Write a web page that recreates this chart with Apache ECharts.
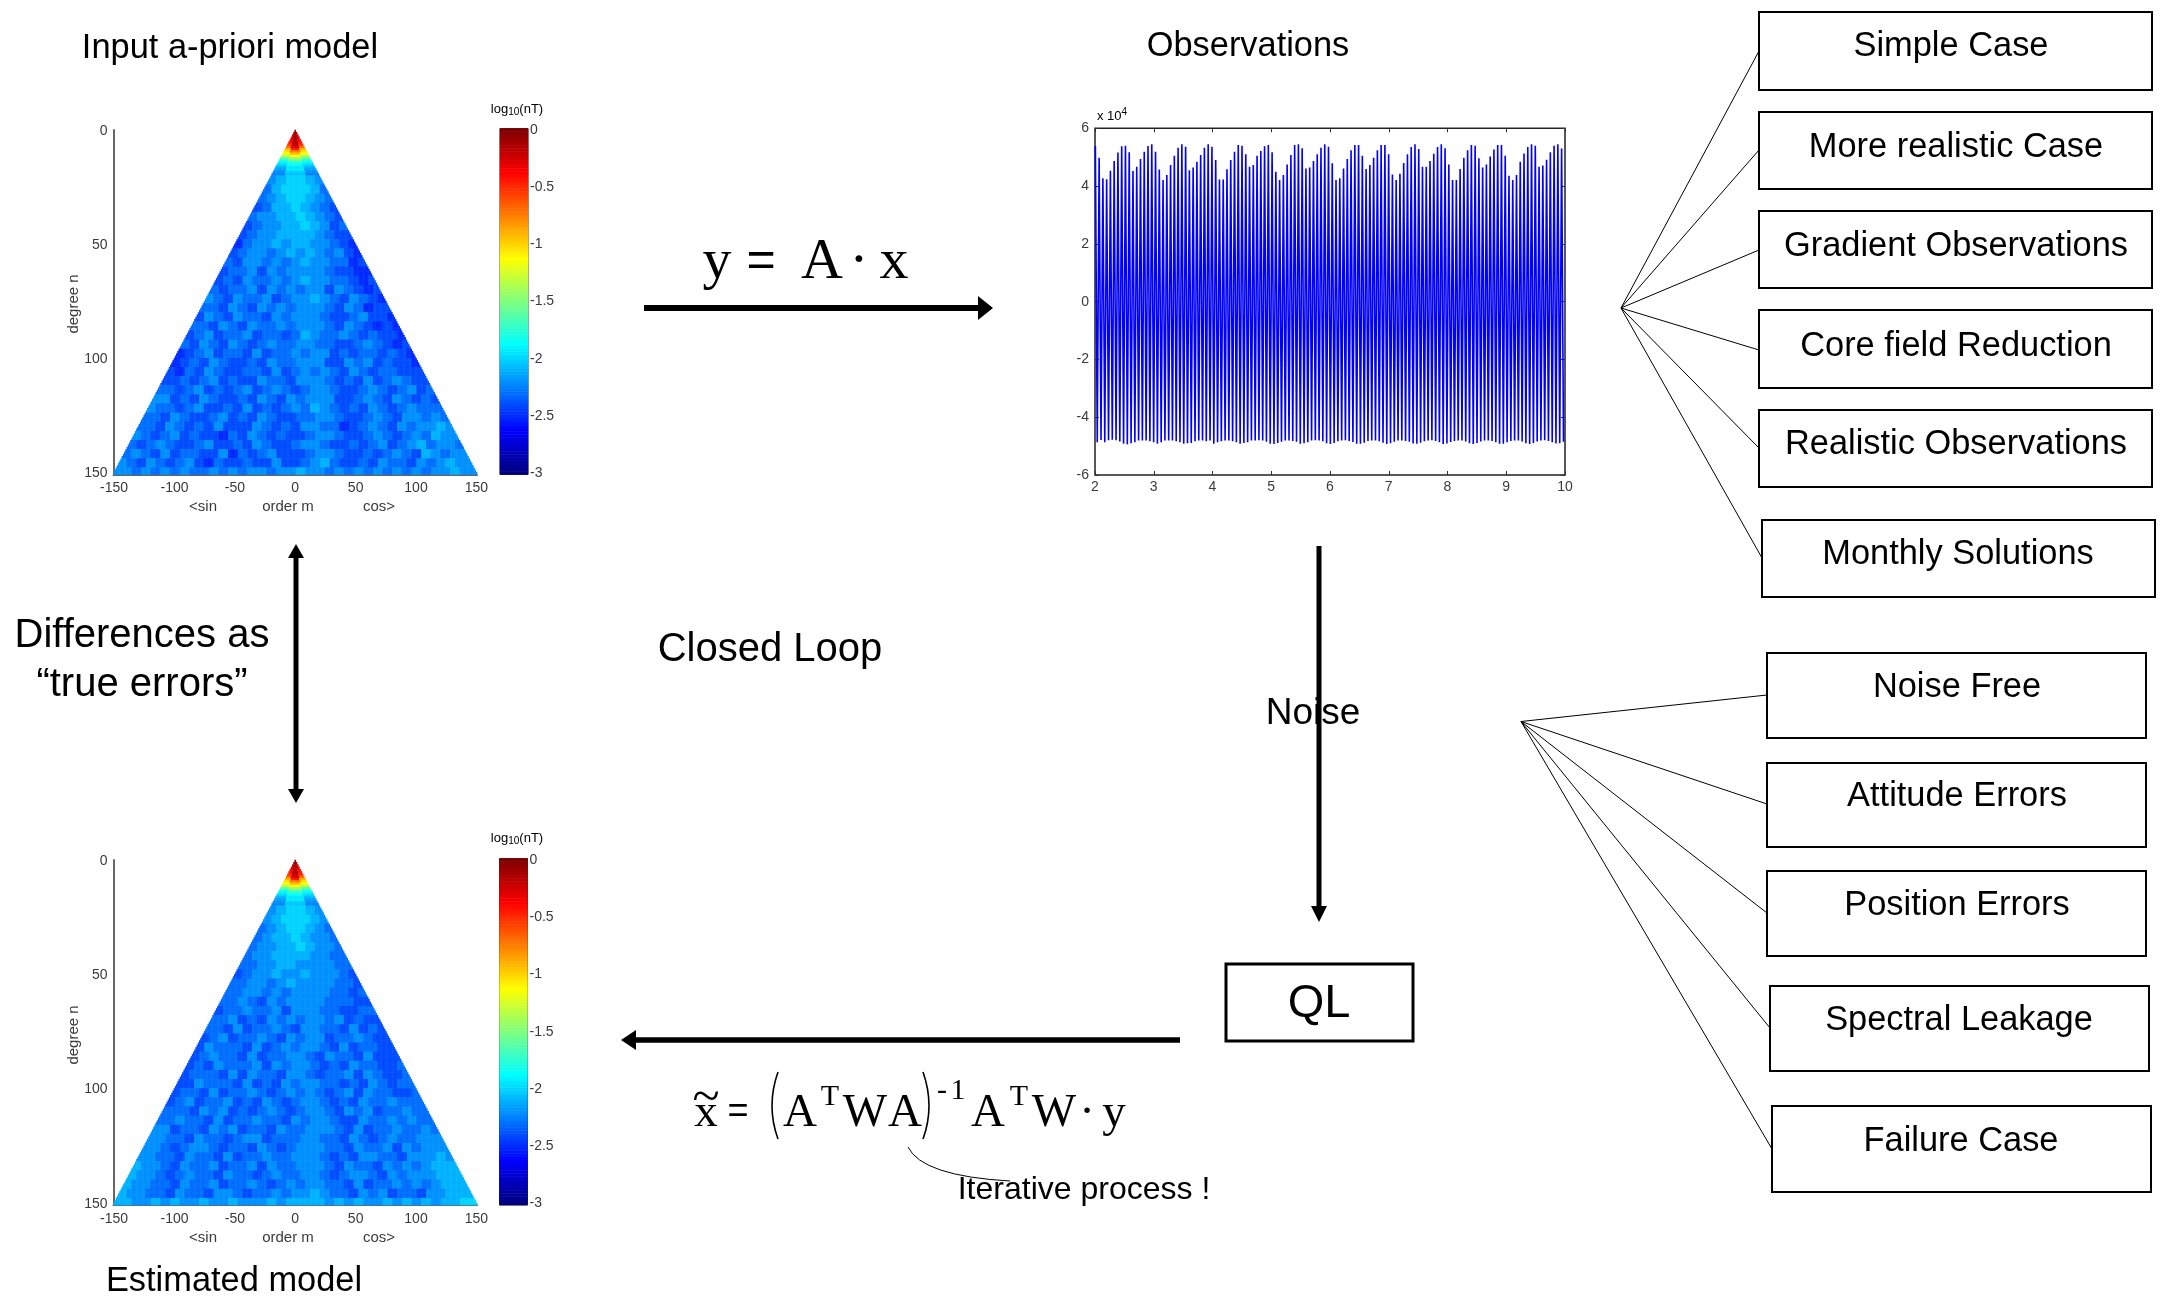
<!DOCTYPE html>
<html><head><meta charset="utf-8">
<style>html,body{margin:0;padding:0;background:#fff}#c{width:2163px;height:1307px}</style>
<script src="https://cdn.jsdelivr.net/npm/echarts@6/dist/echarts.min.js"></script>
</head><body><div id="c"></div>
<script>
// ---- a-priori / estimated spectra. Estimated by eye from the picture, not per coefficient:
// tip rows are per degree (log10 nT), the rest is one digit per 8-order x 4-degree block
// (digit d means -2.8 + 0.1 d); row k covers degrees 20+4k .. 23+4k.
const tipCentre = [-0.08,-0.05,-0.08,-0.1,-0.12,-0.15,-0.2,-0.28,-0.45,-0.75,-0.95,-1.15,-1.4,-1.62,-1.78,-1.88,-1.95,-1.92,-2.02,-2.05];
const tipEdge   = [-0.08,-0.1,-0.2,-0.3,-0.38,-0.42,-0.5,-0.7,-0.9,-1.05,-1.15,-1.35,-1.6,-1.8,-1.92,-2.0,-2.1,-2.15,-2.2,-2.25];
const inputBlocks = [
"678876","5788875","56788765","457787654","5667787654","45667787645","456677776544","3566767766543",
"45665676765643","546656567665534","4556465666654433","45465565676655434","545564656566465434",
"6546556456676546543","55465465656665465344","465465546566654456443","5546546556566654654343",
"45645564554576556545443","546546545655665544565434","3456455464556566454554543","34546544546556664465645443",
"435465445546456565465455444","4454564544655466654546456544","55456454564565456654456545645",
"664546544546546566644565465454","6554564454645456576545465456555","55465445645465445566544565466565",
"554654546444654546655345654656676","6545645443546545445665445654565766","54565445644546544566544545645675665",
"565464554463545644456654454565476566","6546545643544544644567544546554656766","66565656556565665667665656565656566766"];
const estimatedBlocks = [
"678876","6788876","56788765","567787665","5667787665","56677776655","556677666655","4566766766654",
"55665676666554","556656566665545","5565465666655544","45565564666554455","556454656566564544",
"5546455654665546454","45645565465664556544","465554645656654645544","4565546455665465546444",
"45465556465665454655445","455546465546654556465445","4465554645465665545465455","45546455654565654564655445",
"456455645465456654546556555","5554656454565456654656455655","55655464556554656654465565655",
"664554656455465566654645565565","6655465545664555665546545655666","66545665455465456665546556465666",
"665546554645565566654546655466676","7665465564556465566654655465656777","76654565546554565566545665465666777",
"766554655645565456566554645565656777","7665546554665455656676554656455466777","77667676676676667677776767667676767788"];

// ---- observations: one peak and one trough per oscillation, in units of 10^4
const obsPeaks = [
5.39,4.98,4.27,4.24,4.53,4.87,5.16,5.38,5.40,5.17,4.52,4.67,4.94,5.19,5.39,5.45,
5.19,4.57,4.21,4.38,4.73,5.05,5.33,5.45,5.36,4.55,4.64,4.84,5.08,5.33,5.45,5.36,
4.90,4.23,4.23,4.58,4.90,5.19,5.42,5.40,5.10,4.67,4.73,5.05,5.21,5.38,5.42,5.17,
4.50,4.21,4.38,4.75,5.08,5.42,5.45,5.31,4.61,4.64,4.87,5.10,5.33,5.45,5.36,
4.79,4.21,4.27,4.61,4.94,5.24,5.42,5.42,5.05,4.59,4.73,4.98,5.24,5.42,5.42,5.10,
4.40,4.21,4.43,4.80,5.10,5.35,5.45,5.28,4.67,4.67,4.87,5.12,5.35,5.45,5.31,4.75,
4.21,4.21,4.59,4.98,5.24,5.42,5.40,4.96,4.64,4.75,5.02,5.27,5.42,5.42,5.05,4.36,
4.21,4.38,4.84,5.13,5.35,5.45,5.40,4.67,4.71,4.91,5.17,5.40,5.45,5.30];
const obsTroughs = [
-4.87,-4.79,-4.87,-4.80,-4.78,-4.80,-4.84,-4.92,-4.94,-4.90,-4.87,-4.81,-4.81,-4.81,-4.83,-4.87,
-4.92,-4.87,-4.81,-4.81,-4.81,-4.83,-4.87,-4.92,-4.90,-4.89,-4.83,-4.81,-4.81,-4.83,-4.81,-4.92,
-4.87,-4.83,-4.81,-4.81,-4.83,-4.87,-4.92,-4.89,-4.87,-4.81,-4.81,-4.80,-4.81,-4.85,-4.92,-4.93,
-4.89,-4.85,-4.81,-4.81,-4.82,-4.85,-4.92,-4.90,-4.87,-4.81,-4.80,-4.81,-4.83,-4.90,-4.93,
-4.89,-4.83,-4.81,-4.80,-4.82,-4.86,-4.92,-4.92,-4.88,-4.82,-4.81,-4.81,-4.83,-4.88,-4.93,-4.90,
-4.85,-4.81,-4.81,-4.82,-4.85,-4.91,-4.92,-4.88,-4.83,-4.81,-4.80,-4.82,-4.87,-4.93,-4.91,-4.86,
-4.82,-4.81,-4.81,-4.84,-4.90,-4.93,-4.89,-4.84,-4.81,-4.81,-4.82,-4.87,-4.92,-4.92,-4.87,-4.82,
-4.81,-4.81,-4.84,-4.90,-4.93,-4.89,-4.84,-4.81,-4.80,-4.82,-4.87,-4.91,-4.90,-4.85];

// ---- diagram text
const upperCases = ['Simple Case','More realistic Case','Gradient Observations','Core field Reduction','Realistic Observations','Monthly Solutions'];
const lowerCases = ['Noise Free','Attitude Errors','Position Errors','Spectral Leakage','Failure Case'];

// ---- scales
const JET = ['#00007f','#0000ff','#007fff','#00ffff','#7fff7f','#ffff00','#ff7f00','#ff0000','#7f0000'];
const SANS = '"Liberation Sans", Arial, sans-serif';
const SERIF = '"Liberation Serif", "Times New Roman", serif';
const orders = []; for (let m=-150;m<=150;m++) orders.push(String(m));
const degrees = []; for (let n=0;n<=150;n++) degrees.push(String(n));
const levels = []; for (let i=0;i<=120;i++) levels.push(String(+(-3+i*0.025).toFixed(3)));

function spectrum(blocks){
  const out=[];
  for (let n=0;n<=150;n++) for (let m=-n;m<=n;m++){
    let v;
    if (n<20) v = Math.abs(m)<=n*0.45 ? tipCentre[n] : tipEdge[n];
    else {
      const k=Math.floor((n-20)/4), nmax=23+4*k, row=blocks[k];
      const j=Math.min(Math.floor((m+nmax)/8),row.length-1);
      v=-2.8+0.1*Number(row[j]);
    }
    out.push([m+150,n,v]);
  }
  return out;
}
const barData = levels.map((l,i)=>[0,i,+l]);

const grids=[], xAxes=[], yAxes=[], series=[];
const tickCol='#444';
function labelStyle(size){return {color:'#3a3a3a',fontFamily:SANS,fontSize:size||14};}
function addSpectrum(top,bottom,data){
  const g=grids.length;
  grids.push({left:113.5,top:top,width:363.5,height:bottom-top,containLabel:false});
  const xi=xAxes.length, yi=yAxes.length;
  const on50=(i,v)=>Number(v)%50===0;
  xAxes.push({type:'category',gridIndex:g,data:orders,
    axisLine:{lineStyle:{color:'#666',width:2}},
    axisTick:{inside:true,length:4,alignWithLabel:true,interval:on50,lineStyle:{color:tickCol}},
    axisLabel:Object.assign({interval:on50,margin:7},labelStyle()),splitLine:{show:false}});
  yAxes.push({type:'category',gridIndex:g,data:degrees,inverse:true,
    axisLine:{lineStyle:{color:'#666',width:2}},
    axisTick:{inside:true,length:4,alignWithLabel:true,interval:on50,lineStyle:{color:tickCol}},
    axisLabel:Object.assign({interval:on50,margin:6},labelStyle()),splitLine:{show:false}});
  series.push({type:'heatmap',xAxisIndex:xi,yAxisIndex:yi,data:data,progressive:0,animation:false,
    emphasis:{disabled:true},itemStyle:{borderWidth:0}});
}
function addBar(left,right,top,bottom){
  const g=grids.length;
  grids.push({left:left,top:top,width:right-left,height:bottom-top,show:true,borderColor:'#333',borderWidth:1,backgroundColor:'transparent',containLabel:false});
  const xi=xAxes.length, yi=yAxes.length;
  const on05=(i)=>i%20===0;
  xAxes.push({type:'category',gridIndex:g,data:['c'],show:false});
  yAxes.push({type:'category',gridIndex:g,data:levels,position:'right',
    axisLine:{show:false},
    axisTick:{inside:true,length:4,alignWithLabel:true,interval:on05,lineStyle:{color:'#333'}},
    axisLabel:Object.assign({interval:on05,margin:2},labelStyle()),splitLine:{show:false}});
  yAxes.push({type:'category',gridIndex:g,data:levels,position:'left',
    axisLine:{show:false},
    axisTick:{inside:true,length:4,alignWithLabel:true,interval:on05,lineStyle:{color:'#333'}},
    axisLabel:{show:false},splitLine:{show:false}});
  series.push({type:'heatmap',xAxisIndex:xi,yAxisIndex:yi,data:barData,progressive:0,animation:false,emphasis:{disabled:true}});
}
addSpectrum(130,474.5,spectrum(inputBlocks));
addBar(500,528,128.5,474.5);

// observations line
{
  const g=grids.length;
  grids.push({left:1095,top:128.3,width:470,height:346.7,show:true,borderColor:'#222',borderWidth:1.5,containLabel:false});
  const xi=xAxes.length, yi=yAxes.length;
  const tk={inside:true,length:4,lineStyle:{color:'#333'}};
  const noLine={show:false,onZero:false};
  xAxes.push({type:'value',gridIndex:g,min:2,max:10,interval:1,position:'bottom',axisLine:noLine,axisTick:tk,
    axisLabel:Object.assign({margin:5},labelStyle()),splitLine:{show:false}});
  xAxes.push({type:'value',gridIndex:g,min:2,max:10,interval:1,position:'top',axisLine:noLine,axisTick:tk,axisLabel:{show:false},splitLine:{show:false}});
  yAxes.push({type:'value',gridIndex:g,min:-6,max:6,interval:2,position:'left',axisLine:noLine,axisTick:tk,
    axisLabel:Object.assign({margin:6},labelStyle()),splitLine:{show:false}});
  yAxes.push({type:'value',gridIndex:g,min:-6,max:6,interval:2,position:'right',axisLine:noLine,axisTick:tk,axisLabel:{show:false},splitLine:{show:false}});
  const pts=[];
  const step=8/obsPeaks.length;
  obsPeaks.forEach((p,i)=>{
    pts.push([2+step*(i+0.1),p]);
    pts.push([2+step*(i+0.6),obsTroughs[i]]);
  });
  series.push({type:'line',xAxisIndex:xi,yAxisIndex:yi,data:pts,showSymbol:false,animation:false,
    lineStyle:{color:'#0000ff',width:1.6,join:'miter',miterLimit:2},clip:true,silent:true});
}
addSpectrum(860,1205,spectrum(estimatedBlocks));
addBar(499.5,527.5,858.5,1205);

// ---- diagram layer
const g=[];
function T(text,x,y,size,opt){ opt=opt||{};
  g.push({type:'text',z:50,style:{text:text,x:x,y:y,fill:opt.fill||'#000',
    font:(opt.weight?opt.weight+' ':'')+size+'px '+(opt.family||SANS),
    textAlign:opt.align||'center',align:opt.align||'center',textVerticalAlign:'middle',verticalAlign:'middle',rich:opt.rich}});
}
function L(x1,y1,x2,y2,w,c){g.push({type:'line',z:40,shape:{x1,y1,x2,y2},style:{stroke:c||'#000',lineWidth:w||1}});}
function R(x1,y1,x2,y2,w){g.push({type:'rect',z:40,shape:{x:x1,y:y1,width:x2-x1,height:y2-y1},style:{fill:'#fff',stroke:'#000',lineWidth:w||2}});}
function H(pts){g.push({type:'polygon',z:41,shape:{points:pts},style:{fill:'#000'}});}
function Q(x1,y1,cx,cy,x2,y2,w){g.push({type:'bezierCurve',z:41,shape:{x1,y1,x2,y2,cpx1:cx,cpy1:cy},style:{stroke:'#000',fill:null,lineWidth:w||1}});}

T('Input a-priori model',230,49,34.4);
T('Observations',1248,47,34.4);
T('Estimated model',234,1281.5,34.4);
T('Closed Loop',770,650,40);
T('Differences as',142,636,40);
T('\u201Ctrue errors\u201D',142,685,40);

// y = A x
const bl1=280;
[['y',717,58],['A',822,58],['\u00B7',859,58],['x',894,58]].forEach(a=>T(a[0],a[1],bl1-0.3*a[2],a[2],{family:SERIF}));
T('=',761,bl1-18,50,{family:SANS});
L(644,308,980,308,6); H([[978,296],[993,308],[978,320]]);

// double arrow
L(296,555,296,792,5); H([[288,558],[296,544],[304,558]]); H([[288,789],[296,803],[304,789]]);
// down arrow
L(1319,546,1319,908,5); H([[1311,906],[1319,922],[1327,906]]);
T('Noise',1313,714,37);
// QL
R(1226,964,1413,1041,3); T('QL',1319,1004,47);
// left arrow
L(634,1040,1180,1040,5.5); H([[636,1030],[621,1040],[636,1050]]);

// equation
const bl2=1128, es=47, sup=30;
function ES(t,x,base,s){T(t,x,base-0.3*s,s,{family:SERIF});}
ES('x',706,bl2,es); T('~',706,1099,50,{family:SERIF}); T('=',738,bl2-16,36,{family:SANS});
ES('A',800,bl2,es); ES('T',830,1106,sup); ES('W',865,bl2,es); ES('A',905,bl2,es);
ES('-',942,1100,sup); ES('1',958,1100,sup);
ES('A',988,bl2,es); ES('T',1019,1106,sup); ES('W',1054,bl2,es); ES('\u00B7',1087,bl2,es); ES('y',1114,bl2,es);
Q(778,1072,766,1106,778,1139,1.6); Q(923,1072,935,1106,923,1139,1.6);
Q(908,1147,922,1176,1010,1181,1);
T('Iterative process !',1084,1190,32);

// right-hand fans and boxes
const upperBoxes=[[1759,12,2152,90,1951,47],[1759,112,2152,189,1956,148],[1759,211,2152,288,1956,247],[1759,310,2152,388,1956,347],[1759,410,2152,487,1956,445],[1762,520,2155,597,1958,555]];
const upperEnds=[[1759,51],[1759,150],[1759,250],[1759,350],[1759,448],[1762,558]];
upperEnds.forEach(e=>L(1621,308,e[0],e[1],1));
upperCases.forEach((t,i)=>{const b=upperBoxes[i];R(b[0],b[1],b[2],b[3],2);T(t,b[4],b[5],34.4);});
const lowerBoxes=[[1767,653,2146,738,1957,688],[1767,763,2146,847,1957,797],[1767,871,2146,956,1957,906],[1770,986,2149,1071,1959,1021],[1772,1106,2151,1192,1961,1142]];
const lowerEnds=[[1767,695],[1767,804],[1767,913],[1770,1028],[1772,1149]];
lowerEnds.forEach(e=>L(1521,721.5,e[0],e[1],1));
lowerCases.forEach((t,i)=>{const b=lowerBoxes[i];R(b[0],b[1],b[2],b[3],2);T(t,b[4],b[5],34.4);});

// small rich labels
const logRich={a:{fontSize:13,fontFamily:SANS,color:'#333',lineHeight:16},b:{fontSize:10,fontFamily:SANS,color:'#333',lineHeight:16,padding:[7,0,0,0]}};
T('{a|log}{b|10}{a|(nT)}',517,109,13,{rich:logRich});
T('{a|log}{b|10}{a|(nT)}',517,838,13,{rich:logRich});
const expRich={a:{fontSize:13,fontFamily:SANS,color:'#333',lineHeight:16},b:{fontSize:10,fontFamily:SANS,color:'#333',lineHeight:16,padding:[0,0,7,0]}};
T('{a|x 10}{b|4}',1112,116,13,{rich:expRich});
// axis captions
const capFill={fill:'#3a3a3a'};
T('<sin',203,507,15,capFill); T('order m',288,507,15,capFill); T('cos>',379,507,15,capFill);
T('<sin',203,1238,15,capFill); T('order m',288,1238,15,capFill); T('cos>',379,1238,15,capFill);
g.push({type:'text',z:50,rotation:Math.PI/2,x:74,y:304,style:{text:'degree n',x:0,y:0,fill:'#3a3a3a',font:'15px '+SANS,textAlign:'center',align:'center',textVerticalAlign:'middle',verticalAlign:'middle'}});
g.push({type:'text',z:50,rotation:Math.PI/2,x:74,y:1035,style:{text:'degree n',x:0,y:0,fill:'#3a3a3a',font:'15px '+SANS,textAlign:'center',align:'center',textVerticalAlign:'middle',verticalAlign:'middle'}});

const chart=echarts.init(document.getElementById('c'),null,{renderer:'canvas'});
chart.setOption({
  animation:false,backgroundColor:'#fff',
  grid:grids,xAxis:xAxes,yAxis:yAxes,series:series,graphic:g,
  visualMap:{show:false,type:'continuous',min:-3,max:0,dimension:2,seriesIndex:[0,1,3,4],inRange:{color:JET}}
});
</script></body></html>
